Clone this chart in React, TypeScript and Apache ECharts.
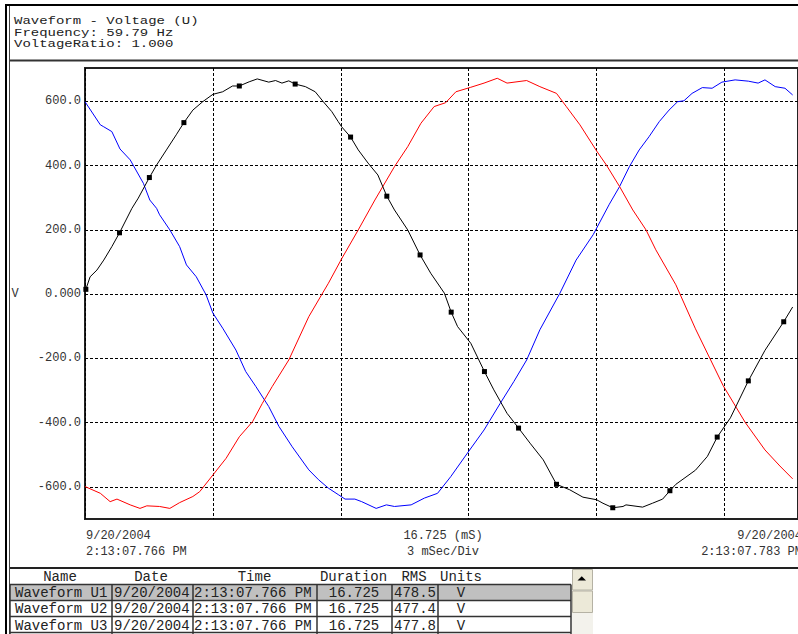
import React, { useEffect, useRef } from "react";
import * as echarts from "echarts";

// ---- header text ----
const headerLines = ["Waveform - Voltage (U)", "Frequency: 59.79 Hz", "VoltageRatio: 1.000"];
const yAxisName = "V";

// ---- axis info ----
const xMin = 0;
const xMax = 16.725; // ms
const xDiv = 3; // mSec/Div
const yMin = -700;
const yMax = 704;
const yGridValues = [-600, -400, -200, 0, 200, 400, 600];
const xLeftLabels = ["9/20/2004", "2:13:07.766 PM"];
const xCenterLabels = ["16.725 (mS)", "3 mSec/Div"];
const xRightLabels = ["9/20/2004", "2:13:07.783 PM"];

// ---- series (time ms, volts) ----
const u1Line: [number, number][] = [
  [0.12, 54], [0.28, 75], [0.44, 106], [0.63, 148],
  [1.10, 267], [1.25, 299],
  [1.68, 402], [1.91, 449], [2.14, 496],
  [2.53, 573], [2.76, 599], [3.0, 622], [3.23, 630], [3.46, 648],
  [3.85, 661], [4.04, 670], [4.31, 660], [4.47, 665], [4.62, 657], [4.78, 664],
  [5.17, 646], [5.40, 630], [5.59, 599], [5.79, 568], [5.94, 537], [6.02, 521],
  [6.41, 449], [6.64, 408], [6.87, 371],
  [7.26, 262], [7.57, 200],
  [8.11, 65], [8.43, 3],
  [8.74, -101], [9.05, -153],
  [9.59, -298], [9.90, -371],
  [10.44, -464], [10.75, -516],
  [11.37, -609], [11.68, -632], [12.0, -640], [12.15, -651],
  [12.62, -661], [12.69, -656], [13.08, -663], [13.31, -651], [13.55, -638],
  [13.86, -592], [14.32, -548], [14.60, -505],
  [15.14, -385],
  [15.95, -175],
  [16.60, -40],
];
const u1Markers: [number, number][] = [
  [0.02, 15], [0.81, 191], [1.51, 363], [2.32, 534], [3.62, 648], [4.93, 654],
  [6.23, 489], [7.08, 305], [7.86, 122], [8.59, -56], [9.37, -241], [10.17, -417],
  [11.06, -592], [12.38, -665], [13.72, -612], [14.83, -445], [15.56, -270], [16.39, -86],
];
const u2Line: [number, number][] = [
  [0, -599], [0.36, -620], [0.59, -646], [0.75, -638], [1.06, -656], [1.29, -667],
  [1.45, -659], [1.75, -661], [1.99, -667], [2.22, -649], [2.53, -630], [2.69, -615],
  [3.0, -563], [3.31, -511], [3.62, -444], [3.93, -397], [4.16, -340], [4.39, -288],
  [4.78, -205], [5.25, -70], [5.55, -2], [5.71, 34], [6.02, 110], [6.41, 200],
  [6.80, 293], [7.26, 397], [7.57, 459], [7.88, 532], [8.19, 584], [8.46, 596],
  [8.70, 630], [9.05, 644], [9.36, 657], [9.67, 672], [9.90, 657], [10.36, 665],
  [10.67, 646], [11.06, 625], [11.29, 584], [11.61, 527], [12.0, 446], [12.23, 402],
  [12.54, 335], [12.85, 262], [13.16, 200], [13.39, 138], [13.86, 29], [14.32, -108],
  [14.97, -285], [15.49, -400], [15.95, -485], [16.30, -535], [16.60, -575],
];
const u3Line: [number, number][] = [
  [0, 599], [0.36, 527], [0.44, 521], [0.63, 506], [0.82, 452], [1.06, 418],
  [1.37, 345], [1.52, 293], [1.68, 267], [1.75, 247], [1.99, 200], [2.22, 148],
  [2.38, 91], [2.61, 54], [2.84, -2], [3.0, -59], [3.23, -106], [3.54, -174],
  [3.77, -241], [4.01, -288], [4.31, -350], [4.55, -412], [4.86, -475], [5.25, -547],
  [5.48, -578], [5.71, -604], [5.94, -624], [6.10, -638], [6.33, -638], [6.49, -646],
  [6.83, -667], [7.07, -656], [7.26, -661], [7.65, -656], [7.96, -635], [8.27, -620],
  [8.58, -568], [8.97, -495], [9.36, -423], [9.74, -340], [10.06, -272], [10.36, -205],
  [10.67, -111], [11.14, 3], [11.52, 106], [11.92, 185], [12.30, 280], [12.54, 335],
  [12.77, 397], [13.0, 449], [13.23, 490], [13.47, 537], [13.70, 573], [13.90, 599],
  [14.05, 602], [14.24, 625], [14.48, 643], [14.71, 641], [14.94, 660], [15.25, 667],
  [15.56, 663], [15.79, 657], [15.95, 667], [16.19, 646], [16.42, 641], [16.60, 620],
];

// ---- table ----
const tableColumns = ["Name", "Date", "Time", "Duration", "RMS", "Units"];
const tableNames = ["Waveform U1", "Waveform U2", "Waveform U3"];
const tableDates = ["9/20/2004", "9/20/2004", "9/20/2004"];
const tableTimes = ["2:13:07.766 PM", "2:13:07.766 PM", "2:13:07.766 PM"];
const tableDurations = ["16.725", "16.725", "16.725"];
const tableRms = ["478.5", "477.4", "477.8"];
const tableUnits = ["V", "V", "V"];

const MONO = '"Liberation Mono", "Courier New", monospace';

function txt(x: number, y: number, text: string, size: number, align = "left", fill = "#222", scaleY = 1) {
  return {
    type: "text",
    x,
    y,
    scaleY,
    silent: true,
    z: 100,
    style: {
      text,
      font: `${size}px ${MONO}`,
      fill,
      align,
      textAlign: align,
      verticalAlign: "middle",
      textVerticalAlign: "middle",
    },
  };
}
function hline(x1: number, x2: number, y: number, color: string, w: number) {
  return { type: "line", silent: true, z: 90, shape: { x1, y1: y, x2, y2: y }, style: { stroke: color, lineWidth: w } };
}
function vline(x: number, y1: number, y2: number, color: string, w: number) {
  return { type: "line", silent: true, z: 90, shape: { x1: x, y1, x2: x, y2 }, style: { stroke: color, lineWidth: w } };
}
function rect(x: number, y: number, width: number, height: number, fill: string, stroke?: string) {
  return {
    type: "rect",
    silent: true,
    z: 80,
    shape: { x, y, width, height },
    style: { fill, stroke: stroke || "none", lineWidth: stroke ? 1 : 0 },
  };
}

export default function App() {
  const ref = useRef<HTMLDivElement>(null);
  useEffect(() => {
    if (!ref.current) return;
    const chart = echarts.init(ref.current, undefined, { renderer: "svg" });

    const markerSet = u1Markers.map((p) => ({ value: p, symbol: "rect", symbolSize: 5 }));
    const u1Data = [...u1Line.map((p) => ({ value: p })), ...markerSet].sort(
      (a: any, b: any) => a.value[0] - b.value[0]
    );

    const graphics: any[] = [];
    // frame
    graphics.push(rect(5, 4, 793, 2, "#000"));
    graphics.push(rect(5, 4, 2, 630, "#000"));
    graphics.push(vline(9.5, 6, 634, "#444", 1));
    graphics.push(rect(9, 59.5, 789, 2, "#333"));
    graphics.push(rect(9, 567, 789, 2, "#222"));
    // header
    const headerY = [21, 32.7, 44.4];
    headerLines.forEach((l, i) => graphics.push(txt(14, headerY[i], l, 14, "left", "#222", 0.8)));
    // V axis name
    graphics.push(txt(15, 294, yAxisName, 12, "center", "#333"));
    // x labels
    graphics.push(txt(86, 535.5, xLeftLabels[0], 12, "left", "#333"));
    graphics.push(txt(86, 551.5, xLeftLabels[1], 12, "left", "#333"));
    graphics.push(txt(443, 535.5, xCenterLabels[0], 12, "center", "#333"));
    graphics.push(txt(443, 551.5, xCenterLabels[1], 12, "center", "#333"));
    graphics.push(txt(802, 535.5, xRightLabels[0], 12, "right", "#333"));
    graphics.push(txt(802, 551.5, xRightLabels[1], 12, "right", "#333"));

    // table
    const colX = [10, 112, 193, 317, 392, 438, 571];
    const headCenters = [60, 151, 254.5, 353.5, 414, 461];
    tableColumns.forEach((c, i) => graphics.push(txt(headCenters[i], 576.7, c, 14, "center")));
    graphics.push(rect(10, 585, 561, 16, "#c0c0c0"));
    const rowTop = [584.5, 600.5, 616.5, 632.5];
    rowTop.forEach((y) => graphics.push(hline(10, 571, y, "#333", 1.5)));
    colX.forEach((x) => graphics.push(vline(x, 584.5, 634, "#333", 1.5)));
    const rowY = [593.2, 609.3, 625.6];
    tableNames.forEach((n, i) => {
      graphics.push(txt(15, rowY[i], n, 14));
      graphics.push(txt(114, rowY[i], tableDates[i], 14));
      graphics.push(txt(194, rowY[i], tableTimes[i], 14));
      graphics.push(txt(354, rowY[i], tableDurations[i], 14, "center"));
      graphics.push(txt(415, rowY[i], tableRms[i], 14, "center"));
      graphics.push(txt(461, rowY[i], tableUnits[i], 14, "center"));
    });
    // scrollbar
    graphics.push(rect(572, 569, 21, 65, "#f3f2ec"));
    graphics.push(rect(572.5, 569.5, 20, 20.5, "#ece9d8", "#b5b2a4"));
    graphics.push({
      type: "polygon",
      silent: true,
      z: 95,
      shape: { points: [[577.5, 580.5], [586, 580.5], [581.75, 576.3]] },
      style: { fill: "#000" },
    });
    graphics.push(rect(572.5, 591, 20, 21.5, "#ece9d8", "#b5b2a4"));

    chart.setOption({
      animation: false,
      backgroundColor: "#fff",
      grid: {
        left: 85,
        right: -4.5,
        top: 68,
        bottom: 115,
        show: true,
        borderColor: "#222",
        borderWidth: 2,
        backgroundColor: "transparent",
      },
      xAxis: {
        type: "value",
        min: xMin,
        max: xMax,
        interval: xDiv,
        axisLine: { show: false },
        axisTick: { show: false },
        axisLabel: { show: false },
        splitLine: { show: true, lineStyle: { color: "#000", width: 1, type: [3, 2] } },
      },
      yAxis: {
        type: "value",
        min: yMin,
        max: yMax,
        interval: 100,
        axisLine: { show: false },
        axisTick: { show: false },
        splitLine: { show: false },
        axisLabel: {
          margin: 4,
          fontFamily: MONO,
          fontSize: 12,
          color: "#333",
          formatter: (v: number) =>
            yGridValues.indexOf(v) >= 0 ? (v === 0 ? "0.000" : v.toFixed(1)) : "",
        },
      },
      series: [
        {
          type: "line",
          name: "U3",
          data: u3Line,
          symbol: "none",
          lineStyle: { color: "#0000ff", width: 1 },
          itemStyle: { color: "#0000ff" },
          z: 2,
          markLine: {
            silent: true,
            symbol: ["none", "none"],
            label: { show: false },
            lineStyle: { color: "#000", width: 1, type: [3, 2] },
            data: yGridValues.map((v) => ({ yAxis: v })),
            z: 1,
          },
        },
        {
          type: "line",
          name: "U2",
          data: u2Line,
          symbol: "none",
          lineStyle: { color: "#ff0000", width: 1 },
          itemStyle: { color: "#ff0000" },
          z: 3,
        },
        {
          type: "line",
          name: "U1",
          data: u1Data,
          symbol: "none",
          showSymbol: true,
          showAllSymbol: true,
          lineStyle: { color: "#000", width: 1 },
          itemStyle: { color: "#000" },
          z: 4,
        },
      ],
      graphic: { elements: graphics },
    });
    return () => chart.dispose();
  }, []);
  return (
    <div
      ref={ref}
      style={{ position: "fixed", left: 0, top: 0, width: 798, height: 634, background: "#fff" }}
    />
  );
}
